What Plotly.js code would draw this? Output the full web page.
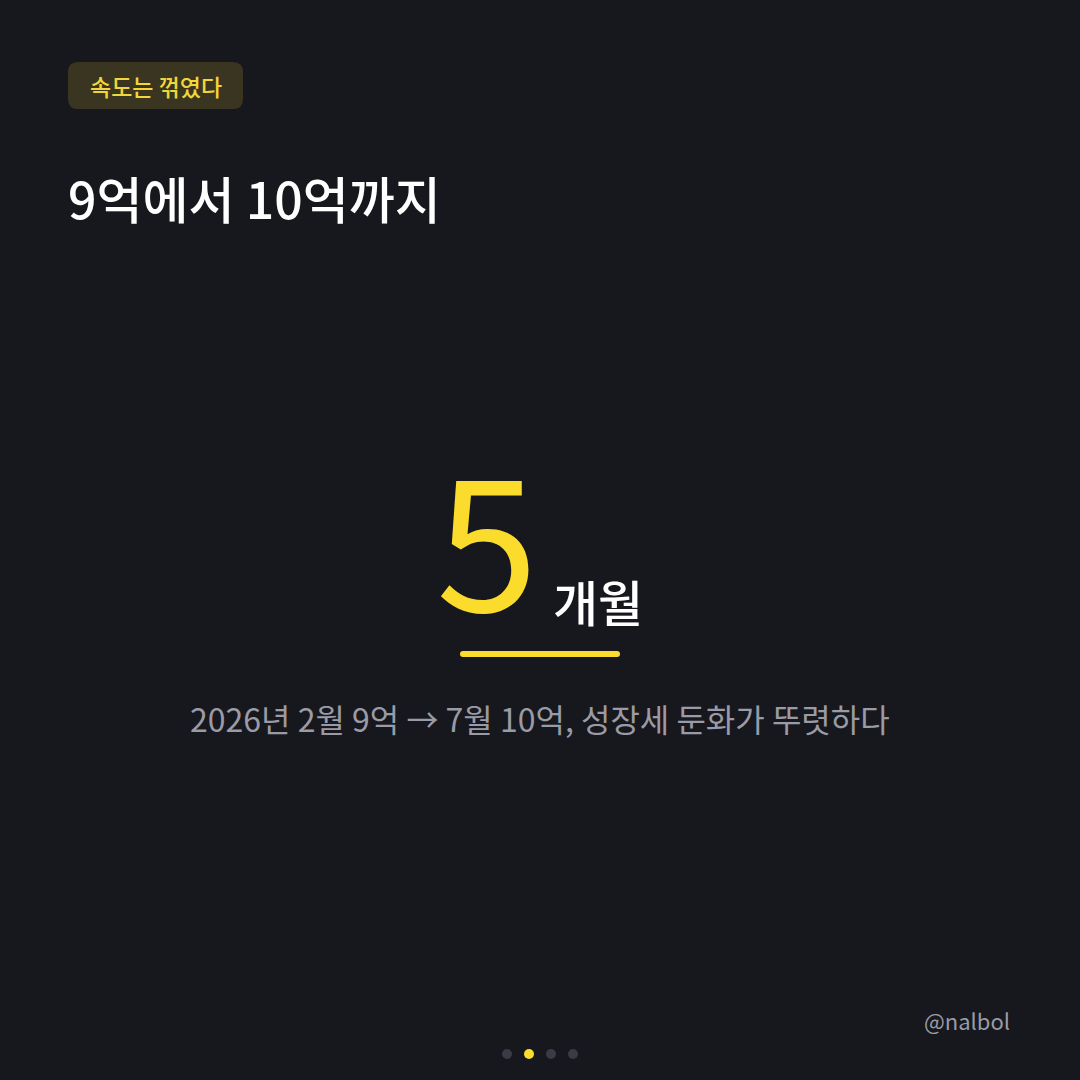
<!DOCTYPE html>
<html>
<head>
<meta charset="utf-8">
<script src="https://cdn.plot.ly/plotly-3.0.1.min.js"></script>
<style>
  html, body { margin: 0; padding: 0; background: #17181d; }
  #card { width: 1080px; height: 1080px; }
</style>
</head>
<body>
<div id="card"></div>
<script>
// card content
const badgeText = '속도는 꺾였다';
const titleText = '9억에서 10억까지';
const bigValue = 5;
const bigUnit = '개월';
const fromLabel = ['2026년', '2월', '9억'];
const toLabel = ['7월', '10억'];
const noteText = '성장세 둔화가 뚜렷하다';
const handle = '@nalbol';
const pageDots = [0, 1, 2, 3];
const activePage = 1;

const BG = '#17181d';
const YELLOW = '#fbdc2c';
const GREY = '#9a9ba6';
const FONT = '"Noto Sans CJK KR", "Noto Sans", sans-serif';

// rounded rectangle as path (arcs not allowed, so use Q corners)
function roundRect(x0, y0, x1, y1, r) {
    return 'M' + (x0 + r) + ',' + y0 +
        ' L' + (x1 - r) + ',' + y0 + ' Q' + x1 + ',' + y0 + ' ' + x1 + ',' + (y0 + r) +
        ' L' + x1 + ',' + (y1 - r) + ' Q' + x1 + ',' + y1 + ' ' + (x1 - r) + ',' + y1 +
        ' L' + (x0 + r) + ',' + y1 + ' Q' + x0 + ',' + y1 + ' ' + x0 + ',' + (y1 - r) +
        ' L' + x0 + ',' + (y0 + r) + ' Q' + x0 + ',' + y0 + ' ' + (x0 + r) + ',' + y0 + ' Z';
}

const subtitle = fromLabel.join(' ') + ' → ' + toLabel.join(' ') + ', ' + noteText;

const dotSpacing = 22;
const dotsX = pageDots.map(i => 540 + (i - (pageDots.length - 1) / 2) * dotSpacing);
const dotsY = pageDots.map(() => 1054);
const dotColors = pageDots.map(i => i === activePage ? YELLOW : '#3a3b44');

const layout = {
    width: 1080,
    height: 1080,
    margin: { t: 0, r: 0, b: 0, l: 0 },
    showlegend: false,
    paper_bgcolor: BG,
    plot_bgcolor: BG,
    xaxis: { range: [0, 1080], visible: false, fixedrange: true },
    yaxis: { range: [1080, 0], visible: false, fixedrange: true },
    shapes: [
        {
            type: 'path',
            path: roundRect(68, 62, 243, 109, 10),
            fillcolor: '#3a3520',
            line: { width: 0 }
        },
        {
            type: 'path',
            path: roundRect(460, 651, 620, 657, 3),
            fillcolor: YELLOW,
            line: { width: 0 }
        }
    ],
    annotations: [
        {
            x: 155.5, y: 86, xref: 'x', yref: 'y',
            text: badgeText, showarrow: false,
            xanchor: 'center', yanchor: 'middle',
            font: { family: FONT, size: 23, color: '#f2d53a', weight: 500 }
        },
        {
            x: 66, y: 197, xref: 'x', yref: 'y',
            text: titleText, showarrow: false,
            xanchor: 'left', yanchor: 'middle',
            font: { family: FONT, size: 50, color: '#ffffff', weight: 500 }
        },
        {
            x: 540, y: 532, xref: 'x', yref: 'y',
            text: String(bigValue), showarrow: false,
            xanchor: 'right', yanchor: 'middle',
            font: { family: FONT, size: 184, color: YELLOW, weight: 400 }
        },
        {
            x: 551, y: 600, xref: 'x', yref: 'y',
            text: bigUnit, showarrow: false,
            xanchor: 'left', yanchor: 'middle',
            font: { family: FONT, size: 49, color: '#ffffff', weight: 500 }
        },
        {
            x: 540, y: 718, xref: 'x', yref: 'y',
            text: subtitle, showarrow: false,
            xanchor: 'center', yanchor: 'middle',
            font: { family: FONT, size: 32, color: GREY, weight: 400 }
        },
        {
            x: 1012, y: 1020, xref: 'x', yref: 'y',
            text: handle, showarrow: false,
            xanchor: 'right', yanchor: 'middle',
            font: { family: FONT, size: 22, color: GREY, weight: 400 }
        }
    ]
};

Plotly.newPlot('card', [{
    x: dotsX,
    y: dotsY,
    type: 'scatter',
    mode: 'markers',
    hoverinfo: 'skip',
    marker: { size: 10, color: dotColors, line: { width: 0 } }
}], layout, { staticPlot: true, displayModeBar: false });
</script>
</body>
</html>
